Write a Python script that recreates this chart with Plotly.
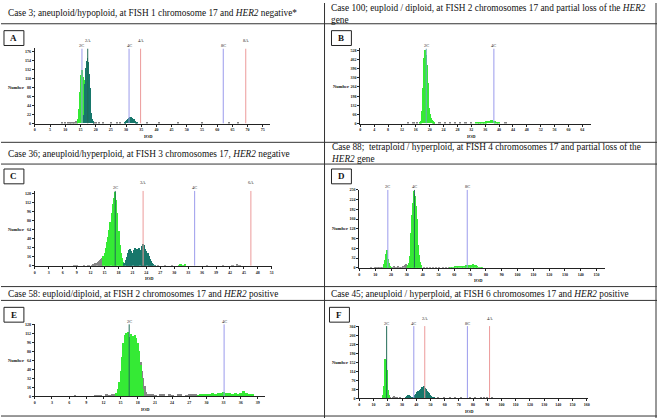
import plotly.graph_objects as go

W, H = 659, 420

# ---------------- captions ----------------
CAP_A = "Case 3; aneuploid/hypoploid, at FISH 1 chromosome 17 and <i>HER2</i> negative*"
CAP_B = "Case 100; euploid / diploid, at FISH 2 chromosomes 17 and partial loss of the <i>HER2</i><br>gene"
CAP_C = "Case 36; aneuploid/hyperploid, at FISH 3 chromosomes 17, <i>HER2</i> negative"
CAP_D = "Case 88;  tetraploid / hyperploid, at FISH 4 chromosomes 17 and partial loss of the<br><i>HER2</i> gene"
CAP_E = "Case 58: euploid/diploid, at FISH 2 chromosomes 17 and <i>HER2</i> positive"
CAP_F = "Case 45; aneuploid / hyperploid, at FISH 6 chromosomes 17 and <i>HER2</i> positive"

# ---------------- panel A ----------------
A_xticks = [0, 5, 10, 15, 20, 25, 30, 35, 40, 45, 50, 55, 60, 65, 70, 75]
A_yticks = [0, 22, 44, 66, 88, 110, 132, 154, 176]
A_marker_names = ["2C", "2A", "4C", "4A", "8C", "8A"]
A_marker_iod = [15.5, 17.4, 31.0, 34.8, 62.0, 69.4]
A_bin = 0.25
A_green_start = 14.0
A_green = [3, 10, 35, 75, 108, 118, 130, 112, 104, 98, 60, 25, 8]
A_teal_start = 16.0
A_teal = [20, 55, 95, 135, 152, 160, 150, 120, 85, 50, 25, 10, 5, 2]
A_teal2_start = 29.5
A_teal2 = [2, 3, 5, 7, 9, 11, 13, 16, 14, 15, 12, 10, 9, 7, 5, 3, 2]
A_gray_x = [9.0, 10.0, 11.0, 11.5, 12.0, 12.5, 13.0, 13.5, 19.5, 20.0, 21.0, 22.5, 25.0, 27.0, 28.0, 37.0, 41.0, 47.0, 55.0, 64.0, 67.0]
A_gray_y = [1, 2, 2, 1, 3, 2, 3, 4, 3, 2, 2, 1, 1, 2, 2, 1, 1, 1, 1, 1, 1]

# ---------------- panel B ----------------
B_xticks = [0, 4, 8, 12, 16, 20, 24, 28, 32, 36, 40, 44, 48, 52, 56, 60, 64]
B_yticks = [0, 66, 132, 198, 264, 330, 396, 462, 528]
B_marker_names = ["2C", "4C"]
B_marker_iod = [19.0, 38.5]
B_bin = 0.25
B_green_start = 17.25
B_green = [5, 12, 28, 90, 250, 470, 528, 490, 420, 290, 180, 110, 65, 40, 25, 14, 7, 3]
B_bin2 = 0.5
B_green2_start = 33.5
B_green2 = [2, 3, 5, 7, 9, 11, 13, 15, 18, 20, 17, 12, 7, 3]
B_gray_x = [14.0, 15.5, 16.5, 21.5, 23.0, 24.5, 26.0, 27.5, 29.0, 30.5, 32.0, 42.0]
B_gray_y = [2, 3, 4, 5, 4, 3, 4, 3, 3, 4, 3, 2]

# ---------------- panel C ----------------
C_xticks = [0, 3, 6, 9, 12, 15, 18, 21, 24, 27, 30, 33, 36, 39, 42, 45, 48, 51]
C_yticks = [0, 16, 32, 48, 64, 80, 96, 112, 128]
C_marker_names = ["2C", "3A", "4C", "6A"]
C_marker_iod = [17.3, 23.3, 34.4, 46.5]
C_bin = 0.25
C_gray_start = 12.25
C_gray = [2, 3, 4, 5, 6, 8, 9, 11, 13, 15]
C_green_start = 14.75
C_green = [18, 24, 32, 42, 52, 64, 78, 95, 110, 121, 132, 118, 95, 62, 38, 24, 14, 8, 4]
C_teal_start = 19.25
C_teal = [5, 10, 17, 24, 28, 30, 26, 24, 29, 32, 27, 30, 26, 33, 28, 35, 40, 37, 30, 27, 23, 18, 13, 9, 6, 3, 2]
C_green2_start = 31.0
C_green2 = [2, 3, 3, 2, 2, 3]
C_gray_x = [8.5, 9.0, 10.5, 11.5, 26.5, 28.0, 29.5, 37.0, 40.5, 42.5, 43.5, 44.0]
C_gray_y = [2, 1, 1, 2, 2, 1, 2, 1, 1, 2, 3, 2]

# ---------------- panel D ----------------
D_xticks = [0, 10, 20, 30, 40, 50, 60, 70, 80, 90, 100, 110, 120, 130, 140, 150]
D_yticks = [0, 32, 64, 96, 128, 160, 192, 224, 256]
D_marker_names = ["2C", "4C", "8C"]
D_marker_iod = [18.0, 34.8, 68.2]
D_bin = 0.5
D_green1_start = 15.5
D_green1 = [4, 12, 28, 45, 60, 48, 30, 15, 7, 3]
D_green2_start = 30.5
D_green2 = [5, 10, 18, 38, 65, 115, 175, 215, 254, 242, 236, 205, 160, 118, 75, 42, 20, 9, 4]
D_bin3 = 1.0
D_green3_start = 58.0
D_green3 = [4, 5, 5, 6, 6, 7, 6, 7, 8, 8, 9, 10, 11, 10, 12, 11, 9, 7, 5, 3, 2]
D_gray_x = [8, 10, 11, 12, 13, 14, 15, 21, 22, 23, 24, 25, 26, 27, 28, 29, 30, 41, 43, 45, 47, 49, 51, 53, 55, 57]
D_gray_y = [2, 3, 2, 4, 3, 4, 5, 5, 6, 4, 5, 6, 5, 4, 8, 10, 12, 4, 3, 2, 3, 4, 3, 2, 3, 4]

# ---------------- panel E ----------------
E_xticks = [0, 3, 6, 9, 12, 15, 18, 21, 24, 27, 30, 33, 36, 39]
E_yticks = [0, 16, 32, 48, 64, 80, 96, 112, 128]
E_marker_names = ["2C", "4C"]
E_marker_iod = [16.5, 33.1]
E_bin = 0.25
E_gray_main_start = 18.5
E_gray_main = [60, 45, 32, 18, 8, 4]
E_green_start = 14.25
E_green = [5, 12, 25, 45, 70, 95, 108, 112, 113, 105, 110, 100, 106, 108, 104, 95, 80, 56, 32, 12]
E_bin2 = 0.5
E_green2_start = 28.5
E_green2 = [2, 3, 3, 4, 4, 5, 4, 5, 6, 8, 6, 5, 4, 5, 4, 6, 9, 5, 4, 3]
E_gray_x = [7.0, 10.5, 11.0, 11.5, 12.5, 13.0, 13.5, 14.0, 20.0, 20.5, 21.0, 22.0, 22.5, 23.5, 24.0, 25.0, 25.5, 26.5, 27.0, 27.5, 28.0]
E_gray_y = [1, 2, 1, 2, 3, 2, 3, 4, 4, 3, 2, 3, 4, 3, 2, 4, 3, 2, 3, 4, 3]

# ---------------- panel F ----------------
F_xticks = [0, 10, 20, 30, 40, 50, 60, 70, 80, 90, 100, 110, 120, 130, 140, 150, 160]
F_yticks = [0, 38, 76, 114, 152, 190, 228, 266, 304]
F_marker_names = ["2C", "4C", "2A", "8C", "4A"]
F_marker_iod = [19.2, 38.3, 46.0, 76.0, 91.6]
F_bin = 0.5
F_green_start = 17.0
F_green = [14, 50, 120, 165, 160, 120, 80, 35, 12, 4]
F_teal1_start = 33.0
F_teal1 = [3, 6, 10, 14, 12, 10, 8, 5, 3, 2]
F_teal2_start = 38.5
F_teal2 = [5, 8, 12, 18, 20, 24, 28, 30, 33, 36, 40, 42, 45, 48, 50, 48, 44, 40, 35, 30, 26, 20, 16, 13, 10, 7, 5, 4, 3, 2]
F_gray_x = [22, 24, 25, 26, 27, 29, 56, 60, 64, 68, 72, 78, 82, 86, 88, 90, 94]
F_gray_y = [2, 4, 8, 6, 3, 2, 2, 1, 2, 1, 2, 2, 3, 2, 3, 2, 1]

# ---------------- styles ----------------
GREEN = "#35ea35"
TEAL = "#17776b"
GRAY = "#858585"
BLUE = "#9b9bec"
RED = "#ec9a9a"
DARK = "#226b57"
SERIF = "Liberation Serif"

# panel geometry in pixels
GEOM = {
    "A": dict(left=34, end=270, xpx=3.053, bottom=122, toptick=49, linetop=46, box=(3, 28)),
    "B": dict(left=361, end=593, xpx=3.484, bottom=122, toptick=48, linetop=46, box=(332, 28)),
    "C": dict(left=34, end=272, xpx=4.667, bottom=266, toptick=193, linetop=190, box=(3, 168)),
    "D": dict(left=360, end=607, xpx=1.589, bottom=268, toptick=189, linetop=189, box=(332, 168)),
    "E": dict(left=34, end=265, xpx=5.744, bottom=398, toptick=325, linetop=325, box=(3, 308)),
    "F": dict(left=360, end=590, xpx=1.428, bottom=400, toptick=327, linetop=327, box=(330, 308)),
}

def bars(start, width, counts):
    xs = [start + i * width for i in range(len(counts))]
    return xs, counts

PANELS = {
    "A": dict(xt=A_xticks, yt=A_yticks, names=A_marker_names, iod=A_marker_iod,
              mcol=[BLUE, DARK, BLUE, RED, BLUE, RED],
              series=[(A_gray_x, A_gray_y, 0.5, GRAY),
                      (*bars(A_green_start, A_bin, A_green), A_bin, GREEN),
                      (*bars(A_teal_start, A_bin, A_teal), A_bin, TEAL),
                      (*bars(A_teal2_start, A_bin, A_teal2), A_bin, TEAL)]),
    "B": dict(xt=B_xticks, yt=B_yticks, names=B_marker_names, iod=B_marker_iod,
              mcol=["#6aaab8", BLUE],
              series=[(B_gray_x, B_gray_y, 0.5, GRAY),
                      (*bars(B_green_start, B_bin, B_green), B_bin, GREEN),
                      (*bars(B_green2_start, B_bin2, B_green2), B_bin2, GREEN)]),
    "C": dict(xt=C_xticks, yt=C_yticks, names=C_marker_names, iod=C_marker_iod,
              mcol=[DARK, RED, BLUE, RED],
              series=[(C_gray_x, C_gray_y, 0.5, GRAY),
                      (*bars(C_gray_start, C_bin, C_gray), C_bin, GRAY),
                      (*bars(C_green_start, C_bin, C_green), C_bin, GREEN),
                      (*bars(C_teal_start, C_bin, C_teal), C_bin, TEAL),
                      (*bars(C_green2_start, C_bin, C_green2), C_bin, GREEN)]),
    "D": dict(xt=D_xticks, yt=D_yticks, names=D_marker_names, iod=D_marker_iod,
              mcol=[BLUE, DARK, BLUE],
              series=[(D_gray_x, D_gray_y, 1.0, GRAY),
                      (*bars(D_green1_start, D_bin, D_green1), D_bin, GREEN),
                      (*bars(D_green2_start, D_bin, D_green2), D_bin, GREEN),
                      (*bars(D_green3_start, D_bin3, D_green3), D_bin3, GREEN)]),
    "E": dict(xt=E_xticks, yt=E_yticks, names=E_marker_names, iod=E_marker_iod,
              mcol=[DARK, BLUE],
              series=[(E_gray_x, E_gray_y, 0.5, GRAY),
                      (*bars(E_gray_main_start, E_bin, E_gray_main), E_bin, GRAY),
                      (*bars(E_green_start, E_bin, E_green), E_bin, GREEN),
                      (*bars(E_green2_start, E_bin2, E_green2), E_bin2, GREEN)]),
    "F": dict(xt=F_xticks, yt=F_yticks, names=F_marker_names, iod=F_marker_iod,
              mcol=[DARK, BLUE, RED, BLUE, RED],
              series=[(F_gray_x, F_gray_y, 1.0, GRAY),
                      (*bars(F_green_start, F_bin, F_green), F_bin, GREEN),
                      (*bars(F_teal1_start, F_bin, F_teal1), F_bin, TEAL),
                      (*bars(F_teal2_start, F_bin, F_teal2), F_bin, TEAL)]),
}

def px(x):
    return x / W

def py(y):
    return 1 - y / H

fig = go.Figure()
annotations = []
shapes = []
layout_axes = {}

for i, key in enumerate(["A", "B", "C", "D", "E", "F"]):
    g = GEOM[key]
    p = PANELS[key]
    n = i + 1
    xa = "x" if n == 1 else f"x{n}"
    ya = "y" if n == 1 else f"y{n}"
    xname = "xaxis" if n == 1 else f"xaxis{n}"
    yname = "yaxis" if n == 1 else f"yaxis{n}"
    xmax = (g["end"] - g["left"]) / g["xpx"]
    ymax_tick = p["yt"][-1]
    ytop = ymax_tick * (g["bottom"] - g["linetop"]) / (g["bottom"] - g["toptick"])

    for xs, ys, w, col in p["series"]:
        fig.add_trace(go.Bar(x=xs, y=ys, width=w, marker=dict(color=col, line=dict(width=0)),
                             xaxis=xa, yaxis=ya, showlegend=False))
    for name, v, col in zip(p["names"], p["iod"], p["mcol"]):
        fig.add_trace(go.Scatter(x=[v, v], y=[0, ytop], mode="lines",
                                 line=dict(color=col, width=1), xaxis=xa, yaxis=ya,
                                 showlegend=False, hoverinfo="skip"))
        high = name.endswith("A")
        annotations.append(dict(x=v, xref=xa, y=py(g["linetop"] - (8 if high else 3)), yref="paper",
                                text=name, showarrow=False, xanchor="center", yanchor="middle",
                                font=dict(family=SERIF, size=4.5, color="#222")))

    axis_common = dict(showline=True, linecolor="#222", linewidth=1, ticks="outside", ticklen=2,
                       tickcolor="#222", showgrid=False, zeroline=False,
                       tickfont=dict(family=SERIF, size=4, color="#111", weight="bold"))
    layout_axes[xname] = dict(domain=[px(g["left"]), px(g["end"])], range=[0, xmax], anchor=ya,
                              tickvals=p["xt"], ticktext=[str(t) for t in p["xt"]], tickangle=0,
                              **axis_common)
    layout_axes[yname] = dict(domain=[py(g["bottom"]), py(g["linetop"])], range=[0, ytop], anchor=xa,
                              tickvals=p["yt"], ticktext=[str(t) for t in p["yt"]],
                              **axis_common)

    # axis titles
    annotations.append(dict(x=px((g["left"] + g["end"]) / 2 - 4), y=py(g["bottom"] + 13), xref="paper", yref="paper",
                            text="<b>IOD</b>", showarrow=False, xanchor="center", yanchor="middle",
                            font=dict(family=SERIF, size=4.5, color="#111")))
    annotations.append(dict(x=px(g["left"] - 9), y=py((g["bottom"] + g["toptick"]) / 2), xref="paper", yref="paper",
                            text="<b>Number</b>", showarrow=False, xanchor="right", yanchor="middle",
                            font=dict(family=SERIF, size=4.5, color="#111")))
    # panel letter box
    bx, by = g["box"]
    shapes.append(dict(type="rect", xref="paper", yref="paper", x0=px(bx), x1=px(bx + 20),
                       y0=py(by + 15), y1=py(by), line=dict(color="#222", width=1), fillcolor="white"))
    annotations.append(dict(x=px(bx + 10), y=py(by + 7.5), xref="paper", yref="paper",
                            text=f"<b>{key}</b>", showarrow=False, xanchor="center", yanchor="middle",
                            font=dict(family=SERIF, size=9, color="#111")))

# captions
cap_font = dict(family=SERIF, size=9.3, color="#111")
for text, x, y in [(CAP_A, 5, 10), (CAP_B, 330, 11), (CAP_C, 5, 153), (CAP_D, 330, 152),
                   (CAP_E, 5, 294), (CAP_F, 330, 294)]:
    annotations.append(dict(x=px(x), y=py(y), xref="paper", yref="paper", text=text, showarrow=False,
                            xanchor="left", yanchor="middle", align="left", font=cap_font))

# table rules
for yy in [21, 141, 163, 287, 301, 418]:
    shapes.append(dict(type="line", xref="paper", yref="paper", x0=0, x1=1, y0=py(yy), y1=py(yy),
                       line=dict(color="#333", width=1)))
for xx in [325, 658]:
    shapes.append(dict(type="line", xref="paper", yref="paper", x0=px(xx), x1=px(xx), y0=0, y1=1,
                       line=dict(color="#333", width=1)))

fig.update_layout(width=W, height=H, margin=dict(l=0, r=0, t=0, b=0),
                  paper_bgcolor="white", plot_bgcolor="white", barmode="overlay", bargap=0,
                  annotations=annotations, shapes=shapes, showlegend=False, **layout_axes)

fig.write_html("out.html", config={"displayModeBar": False},
               post_script="document.body.style.margin='0';document.body.style.overflow='hidden';")
